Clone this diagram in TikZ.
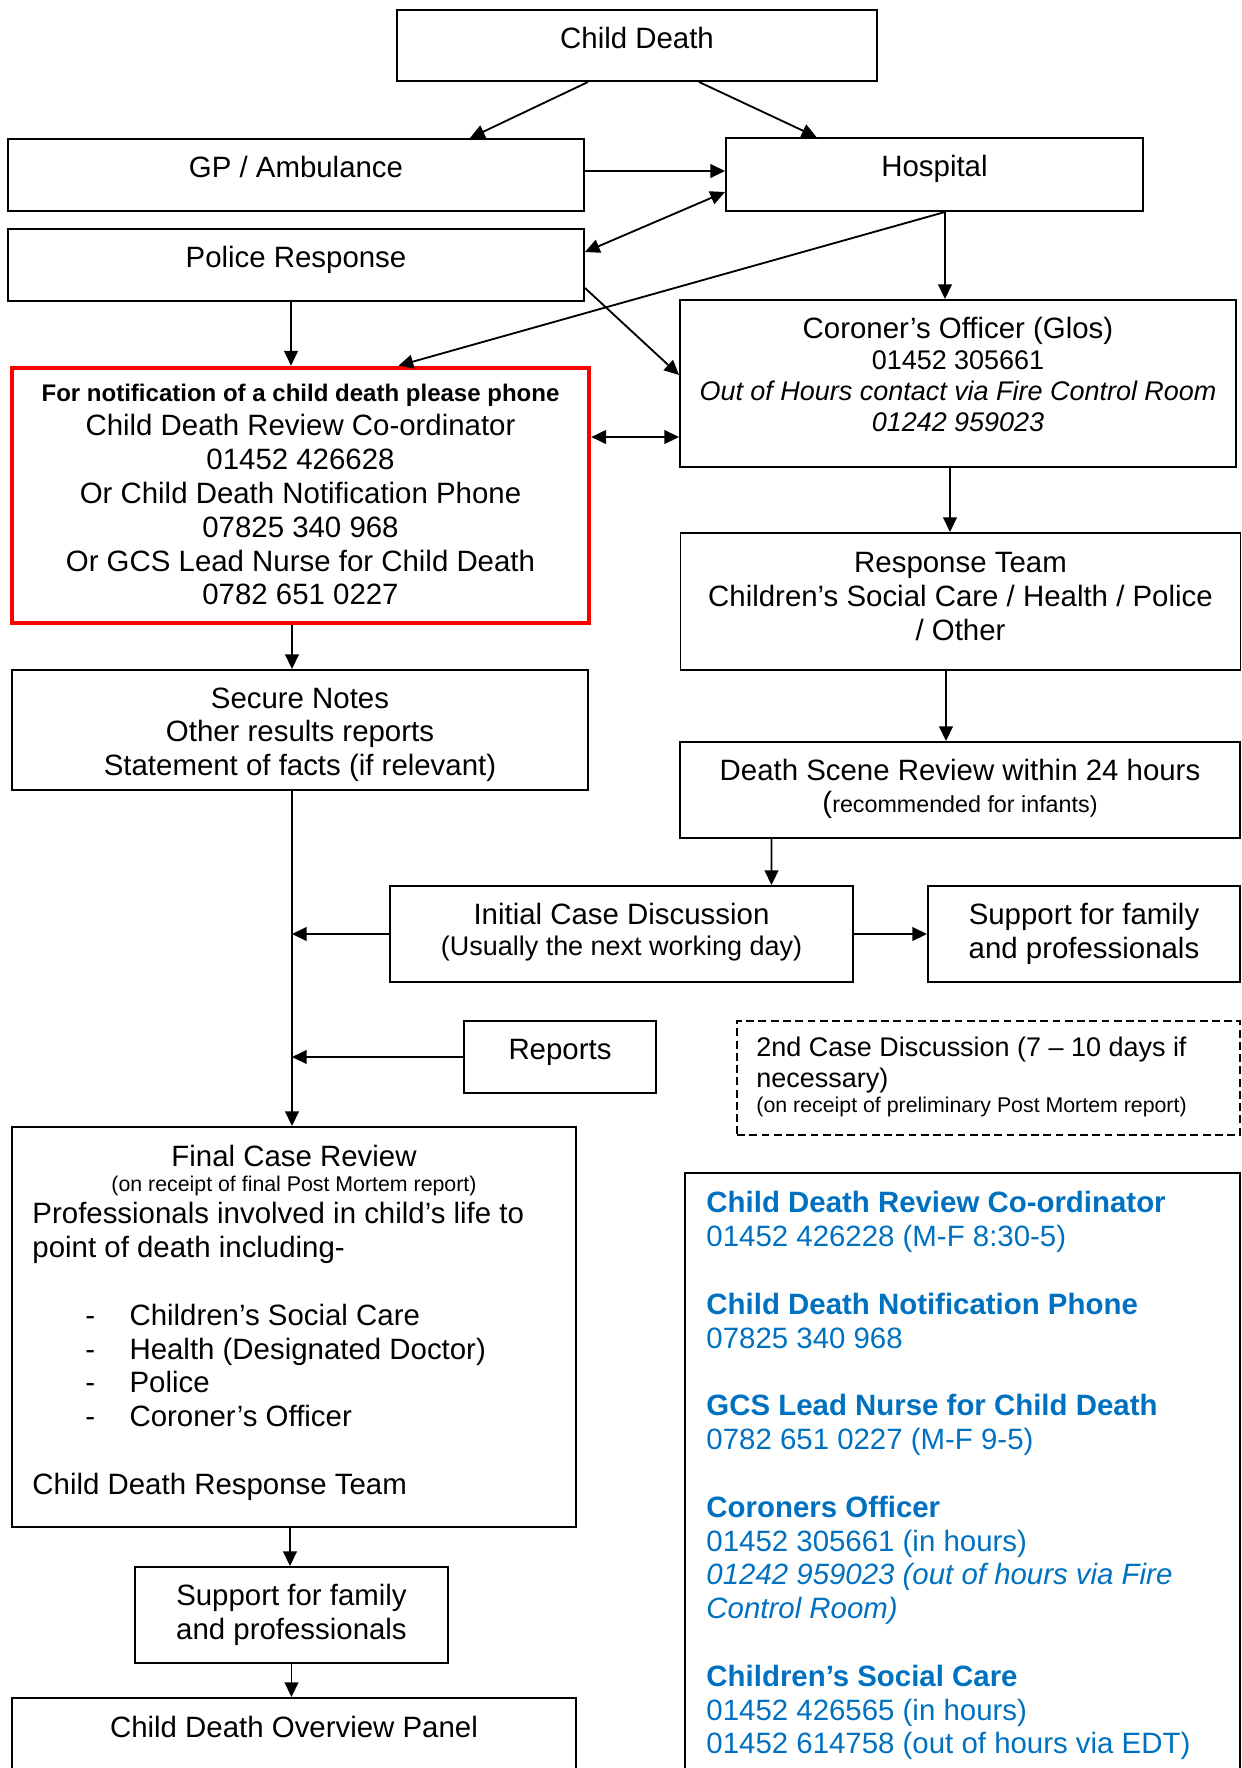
\documentclass[tikz,border=0pt]{standalone}
\usepackage{fontspec}
\setmainfont{Liberation Sans}
\usetikzlibrary{arrows.meta, calc}
\definecolor{notered}{rgb}{1, 0, 0}
\definecolor{contactblue}{RGB}{0, 112, 192}
\newcommand{\pxu}{0.408pt}
\newcommand{\sizetwelve}{\fontsize{12}{13.8}\selectfont}
\newcommand{\sizeeleven}{\fontsize{11}{12.65}\selectfont}
\newcommand{\sizeten}{\fontsize{9.8}{11.3}\selectfont}
\newcommand{\sizenote}{\fontsize{9.5}{10.9}\selectfont}
\newcommand{\sizesmall}{\fontsize{8.7}{10}\selectfont}
\tikzstyle{box} = [draw, line width=0.8pt, inner sep=0]
\tikzstyle{txt} = [anchor=north, inner sep=0, align=center, font=\sizetwelve]
\tikzstyle{arr} = [-{Triangle[length=6pt,width=5.6pt]}, line width=0.75pt]
\tikzstyle{biarr} = [{Triangle[length=6pt,width=5.6pt]}-{Triangle[length=6pt,width=5.6pt]}, line width=0.75pt]
\tikzset{boxsize/.style 2 args={minimum width=#1*\pxu, minimum height=#2*\pxu}}

\begin{document}
\begin{tikzpicture}[x=\pxu, y=-\pxu]

    \useasboundingbox (0,0) rectangle (1242,1768);
    \clip (0,0) rectangle (1242,1768);

    % Child death
    \node (cd) at (637,45.5) [box, boxsize={480}{71}] {};
    \node (cd-t) at (637,27) [txt] {Child Death};

    % First responders
    \node (gp) at (296,175) [box, boxsize={576}{72}] {};
    \node (gp-t) at (296,156) [txt] {GP / Ambulance};
    \node (hosp) at (934.5,174.5) [box, boxsize={417}{73}] {};
    \node (hosp-t) at (934.5,155) [txt] {Hospital};
    \node (police) at (296,265) [box, boxsize={576}{72}] {};
    \node (police-t) at (296,246) [txt] {Police Response};

    % Notification numbers (red box)
    \node (notify) at (300.5,495.5) [box, draw=notered, line width=1.9pt, boxsize={577}{255}] {};
    \node (notify-t) at (300.5,384) [txt] {{\sizeten\bfseries For notification of a child death please phone}\\ Child Death Review Co-ordinator\\ 01452 426628\\ Or Child Death Notification Phone\\ 07825 340 968\\ Or GCS Lead Nurse for Child Death\\ 0782 651 0227};

    % Coroner
    \node (coroner) at (958,383.5) [box, boxsize={556}{167}] {};
    \node (coroner-t) at (958,317) [txt, font=\sizeeleven] {{\sizetwelve Coroner’s Officer (Glos)}\\ 01452 305661\\ \textit{Out of Hours contact via Fire Control Room}\\ \textit{01242 959023}};

    % Response team
    \node (response) at (960.5,601.5) [box, boxsize={560}{137}] {};
    \node (response-t) at (960.5,552) [txt] {Response Team\\ Children’s Social Care / Health / Police\\ / Other};

    % Secure notes
    \node (secure) at (300,730) [box, boxsize={576}{120}] {};
    \node (secure-t) at (300,687) [txt] {Secure Notes\\ Other results reports\\ Statement of facts (if relevant)};

    % Death scene review
    \node (scene) at (960,790) [box, boxsize={560}{96}] {};
    \node (scene-t) at (960,759) [txt] {Death Scene Review within 24 hours\\[-0.9pt] ({\sizenote recommended for infants)}};

    % Initial case discussion + support
    \node (initial) at (621.5,934) [box, boxsize={463}{96}] {};
    \node (initial-t) at (621.5,903) [txt] {Initial Case Discussion\\[-1.4pt] {\sizeeleven (Usually the next working day)}};
    \node (supportR) at (1084,934) [box, boxsize={312}{96}] {};
    \node (supportR-t) at (1084,903) [txt] {Support for family\\ and professionals};

    % Reports
    \node (reports) at (560,1057) [box, boxsize={192}{72}] {};
    \node (reports-t) at (560,1039) [txt] {Reports};

    % 2nd case discussion
    \node (second) at (988.5,1078) [box, dash pattern=on 3.2pt off 1.8pt, boxsize={503}{114}] {};
    \node (second-t) at (756,1036) [txt, anchor=north west, align=left, font=\sizeeleven] {2nd Case Discussion (7 – 10 days if\\ necessary)\\[-2.4pt] {\sizesmall (on receipt of preliminary Post Mortem report)}};

    % Final case review
    \node (final) at (294,1327) [box, boxsize={564}{400}] {};
    \node (final-t) at (294,1145) [txt] {Final Case Review\\[-3.55pt] {\sizesmall (on receipt of final Post Mortem report)}};
    \node (final-b) at (32,1202) [txt, anchor=north west, align=left] {Professionals involved in child’s life to\\ point of death including-\\[13.8pt]
        \hspace*{21.6pt}\makebox[18pt][l]{-}Children’s Social Care\\
        \hspace*{21.6pt}\makebox[18pt][l]{-}Health (Designated Doctor)\\
        \hspace*{21.6pt}\makebox[18pt][l]{-}Police\\
        \hspace*{21.6pt}\makebox[18pt][l]{-}Coroner’s Officer\\[13.8pt]
        Child Death Response Team};

    % Support and overview panel
    \node (supportB) at (291.5,1615) [box, boxsize={313}{96}] {};
    \node (supportB-t) at (291.5,1584) [txt] {Support for family\\ and professionals};
    \node (cdop) at (294,1758) [box, boxsize={564}{120}] {};
    \node (cdop-t) at (294,1716) [txt] {Child Death Overview Panel};

    % Contact numbers (blue)
    \node (contacts) at (962.5,1498) [box, boxsize={555}{650}] {};
    \node (contacts-t) at (706,1191) [txt, anchor=north west, align=left, text=contactblue] {\textbf{Child Death Review Co-ordinator}\\ 01452 426228 (M-F 8:30-5)\\[13.8pt]
        \textbf{Child Death Notification Phone}\\ 07825 340 968\\[13.8pt]
        \textbf{GCS Lead Nurse for Child Death}\\ 0782 651 0227 (M-F 9-5)\\[13.8pt]
        \textbf{Coroners Officer}\\ 01452 305661 (in hours)\\ \textit{01242 959023 (out of hours via Fire}\\ \textit{Control Room)}\\[13.8pt]
        \textbf{Children’s Social Care}\\ 01452 426565 (in hours)\\ 01452 614758 (out of hours via EDT)};

    % Arrows
    \draw[arr] ($(cd.south)+(-49,0)$) -- ($(gp.north)+(174,0)$);
    \draw[arr] ($(cd.south)+(62,0)$) -- ($(hosp.north)+(-118,0)$);
    \draw[arr] ($(gp.east)+(0,-4)$) -- ($(hosp.west)+(0,-3.5)$);
    \draw[biarr] ($(police.east)+(0,-13)$) -- ($(hosp.west)+(0,17.5)$);
    \draw[arr] ($(police.south)+(-5,0)$) -- ($(notify.north)+(-9.5,0)$);
    \draw[arr] ($(hosp.south)+(10.5,0)$) -- ($(notify.north)+(98,0)$);
    \draw[arr] ($(hosp.south)+(10.5,0)$) -- ($(coroner.north)+(-13,0)$);
    \draw[arr] ($(police.east)+(0,23)$) -- ($(coroner.west)+(0,-8.5)$);
    \draw[biarr] ($(notify.east)+(0,-58.5)$) -- ($(coroner.west)+(0,53.5)$);
    \draw[arr] ($(coroner.south)+(-8,0)$) -- ($(response.north)+(-10.5,0)$);
    \draw[arr] ($(notify.south)+(-8.5,0)$) -- ($(secure.north)+(-8,0)$);
    \draw[arr] ($(response.south)+(-14.5,0)$) -- ($(scene.north)+(-14,0)$);
    \draw[arr] ($(scene.south)+(-188.5,0)$) -- ($(initial.north)+(150,0)$);
    \coordinate (spine) at ($(secure.south)+(-8,0)$);
    \draw[arr] (spine) -- (spine |- final.north);
    \draw[arr] (initial.west) -- (initial.west -| spine);
    \draw[arr] (initial.east) -- (supportR.west);
    \draw[arr] (reports.west) -- (reports.west -| spine);
    \draw[arr] ($(final.south)+(-4,0)$) -- ($(supportB.north)+(-1.5,0)$);
    \draw[arr] (supportB.south) -- (supportB.south |- cdop.north);

\end{tikzpicture}
\end{document}
